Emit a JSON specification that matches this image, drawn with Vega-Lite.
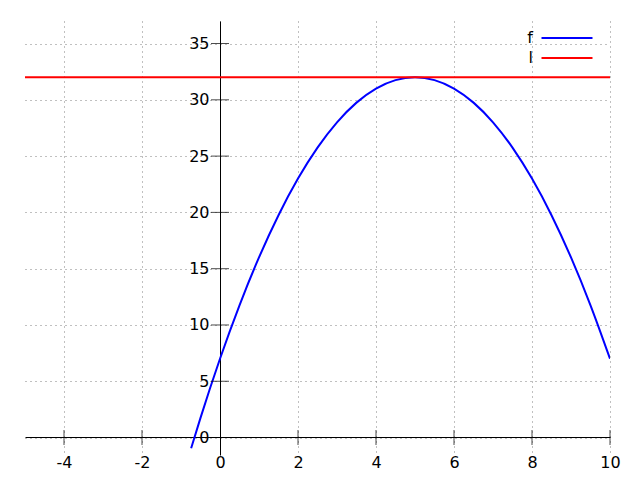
{
  "$schema": "https://vega.github.io/schema/vega-lite/v6.json",
  "width": 585,
  "height": 434,
  "autosize": "none",
  "padding": {"left": 25, "top": 21, "right": 30, "bottom": 25},
  "background": "white",
  "config": {
    "view": {"stroke": null},
    "font": "DejaVu Sans"
  },
  "datasets": {
    "curves": [
      {"x": -0.74, "y": -0.95, "s": "f"},
      {"x": -0.5, "y": 1.75, "s": "f"},
      {"x": 0, "y": 7, "s": "f"},
      {"x": 0.5, "y": 11.75, "s": "f"},
      {"x": 1, "y": 16, "s": "f"},
      {"x": 1.5, "y": 19.75, "s": "f"},
      {"x": 2, "y": 23, "s": "f"},
      {"x": 2.5, "y": 25.75, "s": "f"},
      {"x": 3, "y": 28, "s": "f"},
      {"x": 3.5, "y": 29.75, "s": "f"},
      {"x": 4, "y": 31, "s": "f"},
      {"x": 4.5, "y": 31.75, "s": "f"},
      {"x": 5, "y": 32, "s": "f"},
      {"x": 5.5, "y": 31.75, "s": "f"},
      {"x": 6, "y": 31, "s": "f"},
      {"x": 6.5, "y": 29.75, "s": "f"},
      {"x": 7, "y": 28, "s": "f"},
      {"x": 7.5, "y": 25.75, "s": "f"},
      {"x": 8, "y": 23, "s": "f"},
      {"x": 8.5, "y": 19.75, "s": "f"},
      {"x": 9, "y": 16, "s": "f"},
      {"x": 9.5, "y": 11.75, "s": "f"},
      {"x": 10, "y": 7, "s": "f"},
      {"x": -5, "y": 32, "s": "l"},
      {"x": 10, "y": 32, "s": "l"}
    ],
    "xticks": [
      {"x": -4, "y": 0}, {"x": -2, "y": 0}, {"x": 2, "y": 0}, {"x": 4, "y": 0},
      {"x": 6, "y": 0}, {"x": 8, "y": 0}, {"x": 10, "y": 0}
    ],
    "yticks": [
      {"x": 0, "y": 5}, {"x": 0, "y": 10}, {"x": 0, "y": 15}, {"x": 0, "y": 20},
      {"x": 0, "y": 25}, {"x": 0, "y": 30}, {"x": 0, "y": 35}
    ]
  },
  "encoding": {
    "x": {
      "field": "x",
      "type": "quantitative",
      "scale": {"domain": [-5, 10], "nice": false, "zero": false},
      "axis": {
        "title": null,
        "orient": "bottom",
        "offset": -18,
        "values": [-4, -2, 0, 2, 4, 6, 8, 10],
        "labelExpr": "'' + datum.value",
        "ticks": false,
        "labelPadding": 17,
        "labelFont": "DejaVu Sans",
        "labelFontSize": 16,
        "labelColor": "black",
        "labelFlush": false,
        "labelOverlap": false,
        "domainColor": "black",
        "domainWidth": 1,
        "grid": true,
        "gridColor": "#808080",
        "gridDash": [1, 4],
        "gridWidth": 1
      }
    },
    "y": {
      "field": "y",
      "type": "quantitative",
      "scale": {"domain": [-1.55, 37], "nice": false, "zero": false},
      "axis": {
        "title": null,
        "orient": "left",
        "offset": -195,
        "values": [0, 5, 10, 15, 20, 25, 30, 35],
        "labelExpr": "'' + datum.value",
        "ticks": false,
        "labelPadding": 11,
        "labelFont": "DejaVu Sans",
        "labelFontSize": 16,
        "labelColor": "black",
        "labelFlush": false,
        "labelOverlap": false,
        "domainColor": "black",
        "domainWidth": 1,
        "grid": true,
        "gridColor": "#808080",
        "gridDash": [1, 4],
        "gridWidth": 1
      }
    }
  },
  "layer": [
    {
      "data": {"name": "curves"},
      "mark": {"type": "line", "strokeWidth": 2, "interpolate": "monotone", "clip": true},
      "encoding": {
        "color": {
          "field": "s",
          "type": "nominal",
          "scale": {"domain": ["f", "l"], "range": ["#0000ff", "#ff0000"]},
          "legend": {
            "title": null,
            "orient": "none",
            "legendX": 534,
            "legendY": 9,
            "symbolType": "M-5,0H5",
            "symbolSize": 104,
            "symbolStrokeWidth": 2,
            "labelAlign": "right",
            "labelOffset": -42,
            "labelFont": "DejaVu Sans",
            "labelFontSize": 16,
            "labelColor": "black",
            "rowPadding": 4
          }
        }
      }
    },
    {
      "data": {"name": "xticks"},
      "mark": {"type": "tick", "orient": "vertical", "size": 15, "thickness": 1, "color": "black"}
    },
    {
      "data": {"name": "yticks"},
      "mark": {"type": "tick", "orient": "horizontal", "size": 18, "thickness": 1, "color": "black"}
    }
  ]
}
